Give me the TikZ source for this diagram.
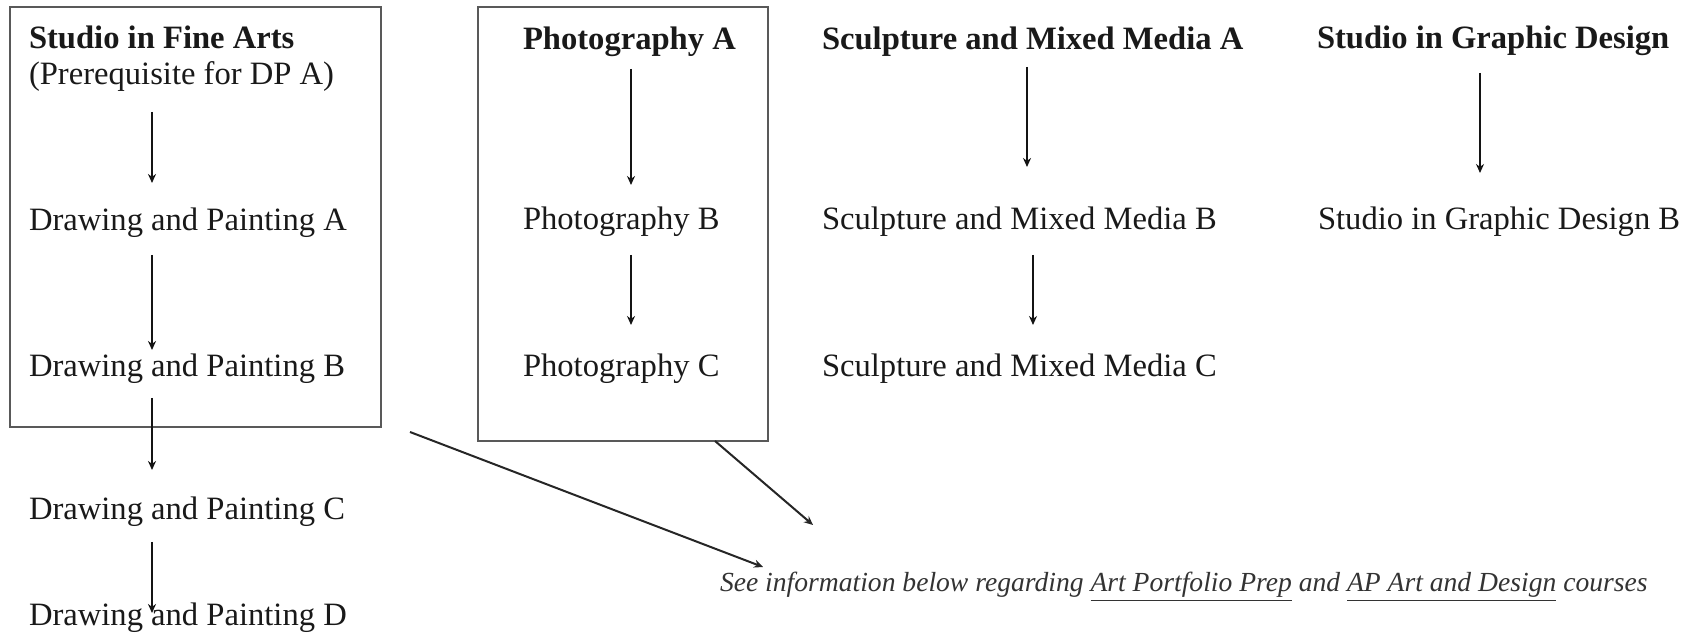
\documentclass[tikz,border=0pt]{standalone}
\usepackage{fontspec}
\setmainfont{Liberation Serif}
\usetikzlibrary{arrows.meta}
\begin{document}
\begin{tikzpicture}[x=0.5pt,y=-0.5pt,
  lbl/.style={anchor=base west, inner sep=0pt, outer sep=0pt, font=\fontsize{16.3pt}{19pt}\selectfont, text=black!90},
  hd/.style={lbl, font=\fontsize{16.3pt}{19pt}\selectfont\bfseries},
  note/.style={anchor=base west, inner sep=0pt, outer sep=0pt, font=\fontsize{13.8pt}{16pt}\selectfont\itshape, text=black!80},
  boxst/.style={draw=black!65, line width=1.2pt, anchor=north west, inner sep=0pt, outer sep=0pt},
  arr/.style={line width=1.3pt, black!92, -{Stealth[length=4.5pt,width=4pt]}},
  darr/.style={line width=1pt, black!85, -{Stealth[length=4.5pt,width=4pt]}}
]
\useasboundingbox (0,0) rectangle (1692,635);

% boxes
\node[boxst, minimum width=185.5pt, minimum height=210pt] (b1) at (10,7) {};
\node[boxst, minimum width=145pt, minimum height=217pt] (b2) at (478,7) {};

% column 1
\node[hd]  (sfa)  at (29,49)  {Studio in Fine Arts};
\node[lbl] (pre)  at (29,85)  {(Prerequisite for DP A)};
\node[lbl] (dpa)  at (29,231) {Drawing and Painting A};
\node[lbl] (dpb)  at (29,377) {Drawing and Painting B};
\node[lbl] (dpc)  at (29,520) {Drawing and Painting C};
\node[lbl] (dpd)  at (29,625) {Drawing and Painting D};

% column 2
\node[hd]  (pha) at (523,50)  {Photography A};
\node[lbl] (phb) at (523,230) {Photography B};
\node[lbl] (phc) at (523,377) {Photography C};

% column 3
\node[hd]  (sma) at (822,50)  {Sculpture and Mixed Media A};
\node[lbl] (smb) at (822,230) {Sculpture and Mixed Media B};
\node[lbl] (smc) at (822,377) {Sculpture and Mixed Media C};

% column 4
\node[hd]  (sgd)  at (1317,49)  {Studio in Graphic Design};
\node[lbl] (sgdb) at (1318,230) {Studio in Graphic Design B};

% note
\node[note] (see) at (720,592) {See information below regarding \underline{Art Portfolio Prep} and \underline{AP Art and Design} courses};

% arrow end points
\coordinate (c1a) at (152,112); \coordinate (c1b) at (152,183);
\coordinate (c1c) at (152,255); \coordinate (c1d) at (152,350);
\coordinate (c1e) at (152,398); \coordinate (c1f) at (152,470);
\coordinate (c1g) at (152,542); \coordinate (c1h) at (152,613);
\coordinate (c2a) at (631,69);  \coordinate (c2b) at (631,185);
\coordinate (c2c) at (631,255); \coordinate (c2d) at (631,325);
\coordinate (c3a) at (1027,67); \coordinate (c3b) at (1027,167);
\coordinate (c3c) at (1033,255); \coordinate (c3d) at (1033,325);
\coordinate (c4a) at (1480,73); \coordinate (c4b) at (1480,173);
\coordinate (d1s) at (410,432); \coordinate (d1e) at (763,567);
\coordinate (d2s) at (715,441); \coordinate (d2e) at (813,525);

\draw[arr] (c1a) -- (c1b);
\draw[arr] (c1c) -- (c1d);
\draw[arr] (c1e) -- (c1f);
\draw[arr] (c1g) -- (c1h);
\draw[arr] (c2a) -- (c2b);
\draw[arr] (c2c) -- (c2d);
\draw[arr] (c3a) -- (c3b);
\draw[arr] (c3c) -- (c3d);
\draw[arr] (c4a) -- (c4b);
\draw[darr] (d1s) -- (d1e);
\draw[darr] (d2s) -- (d2e);
\end{tikzpicture}
\end{document}
